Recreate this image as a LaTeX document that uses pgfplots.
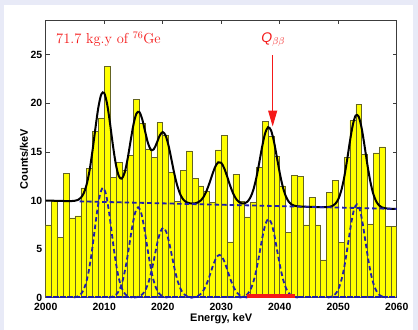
\documentclass[border=0pt]{standalone}
\usepackage{fontspec}
\usepackage{pgfplots}
\pgfplotsset{compat=1.18}
\usetikzlibrary{arrows.meta}
\newfontfamily\arialfont{Liberation Sans}
\definecolor{lav}{RGB}{232,234,247}
\definecolor{barY}{RGB}{255,255,0}
\definecolor{barE}{RGB}{100,100,35}
\definecolor{fitB}{RGB}{30,30,170}
\definecolor{annR}{RGB}{245,25,25}
\definecolor{axC}{RGB}{60,60,60}
\begin{document}
\begin{tikzpicture}[x=1bp,y=1bp]
\fill[lav] (0,0) rectangle (418,330);
\fill[white] (4,0) rectangle (413,325);
\useasboundingbox (0,0) rectangle (418,330);
\begin{axis}[
  at={(45.7bp,32.3bp)}, anchor=south west,
  scale only axis, width=351bp, height=277.2bp,
  xmin=2000, xmax=2060, ymin=0, ymax=28.5,
  xtick={2000,2010,...,2060}, ytick={0,5,...,25},
  tick align=inside, major tick length=4bp,
  axis line style={axC, line width=0.6bp},
  tick style={axC, line width=0.6bp},
  /pgf/number format/assume math mode=true,
  /pgf/number format/set thousands separator={},
  tick label style={font=\arialfont\bfseries\fontsize{10.5}{12}\selectfont},
  xticklabel style={yshift=-1.5bp},
  xlabel={Energy, keV}, ylabel={Counts/keV},
  label style={font=\arialfont\bfseries\fontsize{11}{13}\selectfont},
  xlabel style={at={(axis description cs:0.5,-0.077)}, anchor=center},
  ylabel style={at={(axis description cs:-0.062,0.5)}, anchor=center},
  clip=false,
]
% histogram
\addplot[ybar interval, fill=barY, draw=barE, line width=0.5bp] coordinates {
(2000,7.5)(2001,9.9)(2002,6.2)(2003,12.8)(2004,8.2)(2005,8.4)(2006,11.3)(2007,13.3)(2008,17.1)(2009,18.5)
(2010,23.8)(2011,12.4)(2012,13.9)(2013,13.1)(2014,14.6)(2015,20.4)(2016,17.9)(2017,15.3)(2018,14.4)(2019,18.0)
(2020,16.7)(2021,12.9)(2022,9.9)(2023,13.1)(2024,15.1)(2025,12.3)(2026,11.5)(2027,10.9)(2028,9.8)(2029,15.2)
(2030,16.7)(2031,5.75)(2032,12.7)(2033,9.9)(2034,8.3)(2035,9.8)(2036,13.4)(2037,18.1)(2038,16.6)(2039,14.5)
(2040,11.5)(2041,6.7)(2042,12.6)(2043,12.5)(2044,7.5)(2045,10.3)(2046,7.5)(2047,3.9)(2048,10.8)(2049,12.1)
(2050,5.7)(2051,14.4)(2052,18.2)(2053,19.9)(2054,14.7)(2055,7.6)(2056,14.9)(2057,15.5)(2058,7.3)(2059,7.3)
(2060,7.3)};
% zero line of the gaussian components
\addplot[fitB, line width=1.8bp, dash pattern=on 6bp off 1bp] coordinates {(2000,0.05)(2060,0.05)};
% gaussian components
\addplot[fitB, line width=1.8bp, dash pattern=on 4.5bp off 3bp, smooth] coordinates {
(2004.8,0.03)(2005.3,0.09)(2005.8,0.25)(2006.3,0.61)(2006.8,1.33)(2007.3,2.56)(2007.8,4.37)(2008.3,6.62)(2008.8,8.91)(2009.3,10.65)(2009.8,11.3)
(2010.3,10.65)(2010.8,8.91)(2011.3,6.62)(2011.8,4.37)(2012.3,2.56)(2012.8,1.33)(2013.3,0.61)(2013.8,0.25)(2014.3,0.09)(2014.8,0.03)};
\addplot[fitB, line width=1.8bp, dash pattern=on 4.5bp off 3bp, smooth] coordinates {
(2010.8,0.02)(2011.3,0.08)(2011.8,0.21)(2012.3,0.50)(2012.8,1.09)(2013.3,2.10)(2013.8,3.59)(2014.3,5.45)(2014.8,7.33)(2015.3,8.76)(2015.8,9.3)
(2016.3,8.76)(2016.8,7.33)(2017.3,5.45)(2017.8,3.59)(2018.3,2.10)(2018.8,1.09)(2019.3,0.50)(2019.8,0.21)(2020.3,0.08)(2020.8,0.02)};
\addplot[fitB, line width=1.8bp, dash pattern=on 4.5bp off 3bp, smooth] coordinates {
(2015.1,0.02)(2015.6,0.06)(2016.1,0.16)(2016.6,0.39)(2017.1,0.85)(2017.6,1.63)(2018.1,2.78)(2018.6,4.22)(2019.1,5.68)(2019.6,6.78)(2020.1,7.2)
(2020.6,6.78)(2021.1,5.68)(2021.6,4.22)(2022.1,2.78)(2022.6,1.63)(2023.1,0.85)(2023.6,0.39)(2024.1,0.16)(2024.6,0.06)(2025.1,0.02)};
\addplot[fitB, line width=1.8bp, dash pattern=on 4.5bp off 3bp, smooth] coordinates {
(2024.7,0.01)(2025.2,0.04)(2025.7,0.10)(2026.2,0.24)(2026.7,0.52)(2027.2,1.00)(2027.7,1.70)(2028.2,2.58)(2028.7,3.47)(2029.2,4.15)(2029.7,4.4)
(2030.2,4.15)(2030.7,3.47)(2031.2,2.58)(2031.7,1.70)(2032.2,1.00)(2032.7,0.52)(2033.2,0.24)(2033.7,0.10)(2034.2,0.04)(2034.7,0.01)};
\addplot[fitB, line width=1.8bp, dash pattern=on 4.5bp off 3bp, smooth] coordinates {
(2033.1,0.02)(2033.6,0.07)(2034.1,0.18)(2034.6,0.44)(2035.1,0.95)(2035.6,1.83)(2036.1,3.13)(2036.6,4.74)(2037.1,6.39)(2037.6,7.63)(2038.1,8.1)
(2038.6,7.63)(2039.1,6.39)(2039.6,4.74)(2040.1,3.13)(2040.6,1.83)(2041.1,0.95)(2041.6,0.44)(2042.1,0.18)(2042.6,0.07)(2043.1,0.02)};
\addplot[fitB, line width=1.8bp, dash pattern=on 4.5bp off 3bp, smooth] coordinates {
(2048.2,0.02)(2048.7,0.08)(2049.2,0.21)(2049.7,0.52)(2050.2,1.13)(2050.7,2.17)(2051.2,3.71)(2051.7,5.62)(2052.2,7.57)(2052.7,9.05)(2053.2,9.6)
(2053.7,9.05)(2054.2,7.57)(2054.7,5.62)(2055.2,3.71)(2055.7,2.17)(2056.2,1.13)(2056.7,0.52)(2057.2,0.21)(2057.7,0.08)(2058.2,0.02)};
% total fit
\addplot[black, line width=2bp, smooth] coordinates {
(2000,9.99)(2004,9.93)(2004.5,9.94)(2005,9.97)(2005.5,10.05)(2006,10.27)(2006.5,10.74)(2007,11.64)(2007.5,13.09)(2008,15.11)
(2008.5,17.43)(2009,19.56)(2009.5,20.91)(2010,21.04)(2010.5,19.91)(2011,17.90)(2011.5,15.62)(2012,13.69)(2012.5,12.50)(2013,12.24)
(2013.5,12.88)(2014,14.26)(2014.5,16.07)(2015,17.79)(2015.5,18.92)(2016,19.10)(2016.5,18.36)(2017,17.08)(2017.5,15.86)(2018,15.20)
(2018.5,15.28)(2019,15.93)(2019.5,16.68)(2020,17.03)(2020.5,16.67)(2021,15.64)(2021.5,14.20)(2022,12.72)(2022.5,11.50)(2023,10.63)
(2023.5,10.11)(2024,9.84)(2024.5,9.72)(2025,9.68)(2025.5,9.70)(2026,9.79)(2026.5,9.99)(2027,10.38)(2027.5,10.99)(2028,11.80)
(2028.5,12.70)(2029,13.49)(2029.5,13.92)(2030,13.87)(2030.5,13.33)(2031,12.49)(2031.5,11.57)(2032,10.78)(2032.5,10.20)(2033,9.86)
(2033.5,9.70)(2034,9.70)(2034.5,9.88)(2035,10.32)(2035.5,11.10)(2036,12.31)(2036.5,13.87)(2037,15.53)(2037.5,16.89)(2038,17.52)
(2038.5,17.23)(2039,16.11)(2039.5,14.50)(2040,12.85)(2040.5,11.47)(2041,10.50)(2041.5,9.91)(2042,9.60)(2042.5,9.46)(2043,9.40)
(2044,9.36)(2046,9.33)(2047,9.31)(2048,9.31)(2048.5,9.34)(2049,9.43)(2049.5,9.65)(2050,10.11)(2050.5,10.96)(2051,12.29)
(2051.5,14.08)(2052,16.06)(2052.5,17.78)(2053,18.74)(2053.5,18.62)(2054,17.46)(2054.5,15.63)(2055,13.64)(2055.5,11.92)(2056,10.67)
(2056.5,9.90)(2057,9.48)(2057.5,9.28)(2058,9.20)(2058.5,9.16)(2059,9.14)(2060,9.13)};
% background
\addplot[fitB, line width=1.8bp, dash pattern=on 4.5bp off 3bp] coordinates {(2005.8,9.905)(2060,9.126)};
% Q-value window and arrow
\addplot[annR, line width=4.5bp] coordinates {(2034.4,0.15)(2042.6,0.15)};
\addplot[annR, line width=1bp, -{Triangle[length=16bp,width=9bp]}] coordinates {(2038.8,24.93)(2038.8,17.6)};
\node[annR, font=\fontsize{14.5}{16}\selectfont, anchor=west] at (axis cs:2001.2,26.6) {71.7 kg.y of $^{76}$Ge};
\node[annR, font=\fontsize{14}{16}\selectfont] at (axis cs:2038.9,26.5) {{\arialfont\itshape Q}$_{\beta\beta}$};
\end{axis}
\end{tikzpicture}
\end{document}
